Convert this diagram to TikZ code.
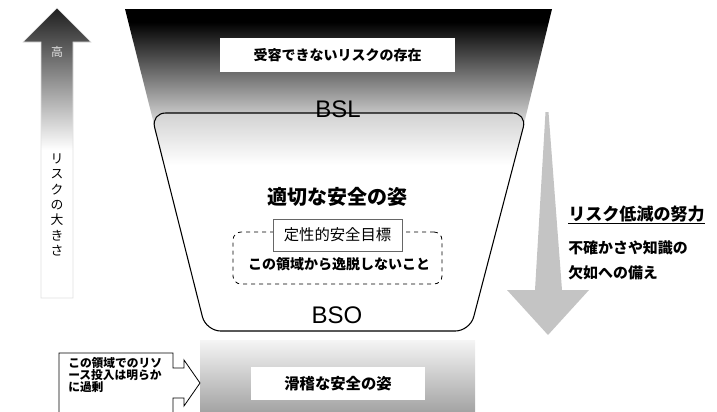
\documentclass[tikz,border=0pt]{standalone}
\usepackage{fontspec}
\setmainfont{Liberation Sans}
\newfontfamily\jpfont{Noto Sans CJK JP}
\usepackage{tikz}
\usetikzlibrary{arrows}

\begin{document}
\begin{tikzpicture}[x=0.75pt,y=-0.75pt]
 % styles
 \tikzstyle{whitebox} = [rectangle,fill=white,inner sep=0pt];
 \tikzstyle{jpbold} = [font=\jpfont\bfseries\fontsize{10.5}{13}\selectfont];
 \tikzstyle{lvl} = [font=\fontsize{18}{20}\selectfont,inner sep=0pt];
 \tikzstyle{goal} = [rectangle,draw=black!60,fill=white,inner sep=0pt];

 \useasboundingbox (0,0) rectangle (717,411);

 % funnel
 \begin{scope}
  \clip (125,9) -- (552,9) -- (520,140) -- (158,140) -- cycle;
  \fill[black] (120,8) rectangle (560,22);
  \shade[top color=black,middle color=black!42,bottom color=white] (120,22) rectangle (560,140);
 \end{scope}

 % risk size arrow
 \begin{scope}
  \clip (57,8) -- (91,42) -- (73,42) -- (73,298) -- (41,298) -- (41,42) -- (23,42) -- cycle;
  \shade[top color=black!88,middle color=black!55,bottom color=white] (20,8) rectangle (95,150);
 \end{scope}
 \draw[black!12,line width=0.5pt]
   (57,8) -- (91,42) -- (73,42) -- (73,298) -- (41,298) -- (41,42) -- (23,42) -- cycle;

 % reduction arrow
 \fill[black!23] (545.5,112) -- (548.5,112) -- (562,290) -- (589,290) -- (548,335)
   -- (507,290) -- (535,290) -- cycle;

 % proper band
 \begin{scope}
  \clip[rounded corners=11pt] (151,113) -- (527,113) -- (470,331) -- (206,331) -- cycle;
  \fill[white] (140,110) rectangle (540,335);
  \shade[top color=black!18,bottom color=white] (140,112) rectangle (540,165);
 \end{scope}
 \draw[black,line width=0.8pt,rounded corners=11pt]
   (151,113) -- (527,113) -- (470,331) -- (206,331) -- cycle;

 % absurd band and callout
 \shade[top color=black!4,bottom color=black!36] (200,340) rectangle (475,412);
 \filldraw[fill=white,draw=black,line width=0.6pt]
   (59,412) -- (59,353) -- (173,353) -- (173,368) -- (184,368) -- (184,360)
   -- (200,383) -- (184,406) -- (184,398) -- (173,398) -- (173,412);

 % nodes
 \node[whitebox,minimum width=176pt,minimum height=25.5pt,jpbold] (unacc) at (337.5,55)
   {受容できないリスクの存在};
 \node[lvl,anchor=base] (bsl) at (338,117.5) {BSL};
 \node[jpbold,font=\jpfont\bfseries\fontsize{15}{18}\selectfont] (proper) at (337,197)
   {適切な安全の姿};
 \node[draw=black,dashed,rounded corners=6pt,line width=0.6pt,
   minimum width=156.75pt,minimum height=39pt] (region) at (337.5,258) {};
 \node[goal,minimum width=96.75pt,minimum height=24pt,
   font=\jpfont\fontsize{11.5}{13}\selectfont] (qsg) at (337.5,235) {定性的安全目標};
 \node[jpbold] (stay) at (339,264) {この領域から逸脱しないこと};
 \node[lvl,anchor=base] (bso) at (337,323.5) {BSO};
 \node[whitebox,minimum width=130.5pt,minimum height=24.75pt,
   font=\jpfont\bfseries\fontsize{11.5}{13}\selectfont] (absurd) at (338,383.5)
   {滑稽な安全の姿};
 \node[jpbold,font=\jpfont\bfseries\fontsize{8.8}{9}\selectfont,align=left,
   anchor=west,inner sep=0pt] (excess) at (68,375)
   {この領域でのリソ\\ース投入は明らか\\に過剰};
 \node[font=\jpfont\fontsize{9}{10}\selectfont,text=black!12] (high) at (57,51.5) {高};
 \node[font=\jpfont\fontsize{9.6}{11.5}\selectfont,align=center,inner sep=0pt] (size)
   at (57,205) {リ\\ス\\ク\\の\\大\\き\\さ};
 \node[jpbold,font=\jpfont\bfseries\fontsize{12.8}{15}\selectfont,anchor=west,inner sep=0pt]
   (effort) at (568,215) {\underline{リスク低減の努力}};
 \node[jpbold,font=\jpfont\bfseries\fontsize{11.2}{18.75}\selectfont,align=left,anchor=west,
   inner sep=0pt] (prep) at (568,260.5) {不確かさや知識の\\欠如への備え};
\end{tikzpicture}
\end{document}
